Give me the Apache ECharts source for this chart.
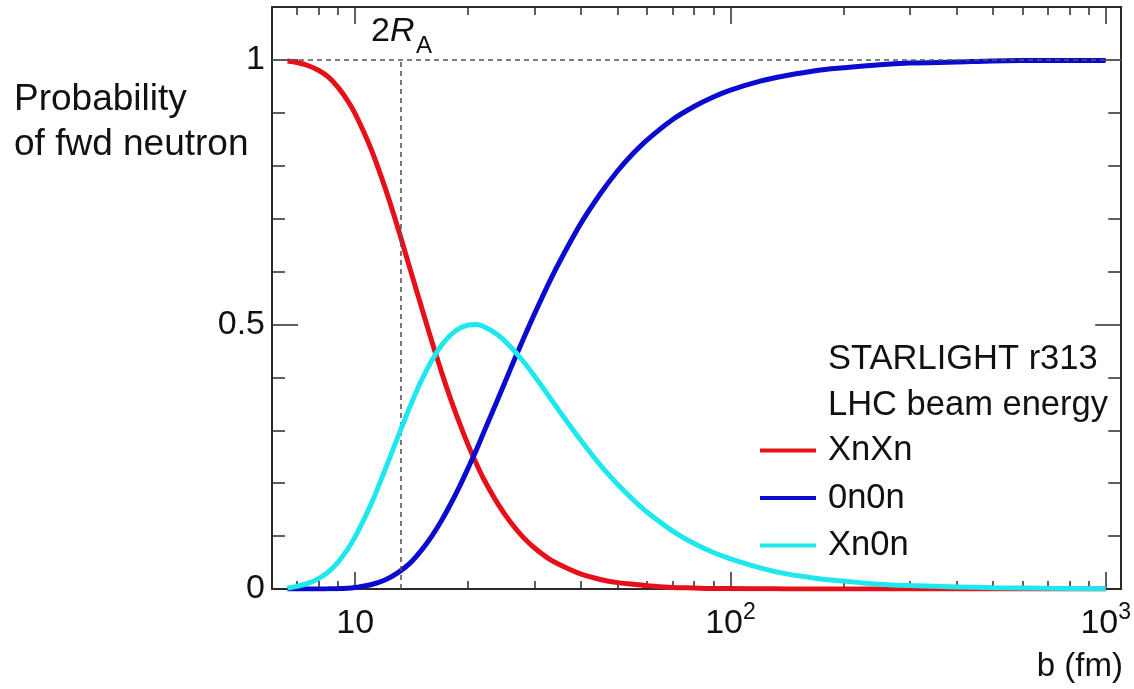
<!DOCTYPE html>
<html><head><meta charset="utf-8">
<script src="https://cdn.jsdelivr.net/npm/echarts@6/dist/echarts.min.js"></script>
<style>html,body{margin:0;padding:0;background:#fff}#c{width:1134px;height:689px}</style>
</head><body><div id="c"></div>
<script>
// impact parameter b (fm)
const bValues = [6.6,7,7.5,8,8.5,9,9.5,10,11,12,13,14,15,16,17,18,19,20,21,22,24,26,28,30,33,36,40,45,50,55,60,70,80,90,100,120,140,170,200,250,300,400,500,700,1000];
const probXnXn = [0.998,0.995,0.989,0.980,0.967,0.948,0.925,0.898,0.833,0.759,0.682,0.605,0.534,0.468,0.409,0.357,0.312,0.272,0.238,0.208,0.161,0.125,0.098,0.078,0.056,0.042,0.028,0.018,0.012,0.009,0.006,0.003,0.002,0.001,0.001,0.0004,0.0002,0.0001,0,0,0,0,0,0,0];
const prob0n0n = [0,0,0,0.0001,0.0003,0.0007,0.0014,0.003,0.008,0.017,0.031,0.049,0.073,0.100,0.130,0.162,0.195,0.229,0.262,0.296,0.359,0.418,0.471,0.519,0.582,0.634,0.692,0.747,0.790,0.823,0.849,0.887,0.912,0.930,0.943,0.960,0.970,0.980,0.985,0.991,0.994,0.996,0.998,0.999,0.999];
const probXn0n = [0.002,0.005,0.011,0.020,0.033,0.051,0.073,0.099,0.159,0.225,0.288,0.345,0.394,0.432,0.461,0.481,0.493,0.499,0.500,0.496,0.480,0.457,0.431,0.403,0.362,0.324,0.280,0.234,0.198,0.169,0.145,0.110,0.086,0.069,0.057,0.040,0.029,0.020,0.015,0.009,0.0065,0.004,0.0024,0.0012,0.0006];
const seriesNames = ['XnXn','0n0n','Xn0n'];
const twoRA = 13.24;
const xMajorTicks = [10,100,1000];
const xTickLabels = {10:'{b|10}',100:'{b|10}{s|2}',1000:'{b|10}{s|3}'};
const xMinorTicks = [7,8,9,20,30,40,50,60,70,80,90,200,300,400,500,600,700,800,900];
const yMajorTicks = [0,0.5,1];
const yTickLabels = {0:'0',0.5:'0.5',1:'1'};
const yMinorTicks = [0.1,0.2,0.3,0.4,0.6,0.7,0.8,0.9];

const FONT = "'Liberation Sans', Arial, Helvetica, sans-serif";
const INK = '#111';
const AX = '#2a2a2a';
const colors = ['#e5101a','#0a0ad0','#1ee8ee'];

function zip(xs, ys){ return xs.map((x,i)=>[x, ys[i]]); }

function xAx(pos, ticks, len, line, labels){
  return {
    type:'log', logBase:10, min:6, max:1100, position:pos, gridIndex:0,
    axisLine:{show:line, onZero:false, lineStyle:{color:AX, width:2}},
    axisTick:{show:true, inside:true, length:len, customValues:ticks, lineStyle:{color:AX, width:1.5}},
    axisLabel: labels ? {show:true, customValues:xMajorTicks, margin:12, color:INK,
      formatter:(v)=>xTickLabels[Math.round(v)] || String(v),
      rich:{ b:{fontSize:34, fontFamily:FONT, color:INK, lineHeight:40, verticalAlign:'bottom'},
             s:{fontSize:23, fontFamily:FONT, color:INK, lineHeight:22, verticalAlign:'top'} } } : {show:false},
    splitLine:{show:false}, minorTick:{show:false}, minorSplitLine:{show:false}
  };
}
function yAx(pos, ticks, len, line, labels){
  return {
    type:'value', min:0, max:1.1, position:pos, gridIndex:0,
    axisLine:{show:line, onZero:false, lineStyle:{color:AX, width:2}},
    axisTick:{show:true, inside:true, length:len, customValues:ticks, lineStyle:{color:AX, width:1.5}},
    axisLabel: labels ? {show:true, customValues:yMajorTicks, margin:7, color:INK, fontSize:34, fontFamily:FONT,
      formatter:(v)=>yTickLabels[v] !== undefined ? yTickLabels[v] : String(v)} : {show:false},
    splitLine:{show:false}
  };
}

const chart = echarts.init(document.getElementById('c'), null, {renderer:'canvas'});
const option = {
  animation:false,
  backgroundColor:'#fff',
  grid:{left:272, top:7, right:8, bottom:100, containLabel:false},
  xAxis:[
    xAx('bottom', xMajorTicks, 17, true, true),
    xAx('bottom', xMinorTicks, 8, false, false),
    xAx('top', xMajorTicks, 17, true, false),
    xAx('top', xMinorTicks, 8, false, false)
  ],
  yAxis:[
    yAx('left', yMajorTicks, 26, true, true),
    yAx('left', yMinorTicks, 13, false, false),
    yAx('right', yMajorTicks, 26, true, false),
    yAx('right', yMinorTicks, 13, false, false)
  ],
  legend:{
    orient:'vertical', left:755, top:428, itemWidth:56, itemHeight:4, itemGap:12.5,
    icon:'rect', data:seriesNames,
    textStyle:{fontSize:34.5, fontFamily:FONT, color:INK, lineHeight:32, padding:[0,0,0,7]}
  },
  series:[
    {name:seriesNames[0], type:'line', data:zip(bValues, probXnXn), showSymbol:false, smooth:0.3,
     lineStyle:{color:colors[0], width:5}, itemStyle:{color:colors[0]}, z:3,
     markLine:{silent:true, symbol:'none', animation:false,
       lineStyle:{type:[5,4], color:'#555', width:1.6}, label:{show:false},
       data:[ [{coord:[6,1]},{coord:[1100,1]}], [{coord:[twoRA,0]},{coord:[twoRA,1]}] ] }},
    {name:seriesNames[1], type:'line', data:zip(bValues, prob0n0n), showSymbol:false, smooth:0.3,
     lineStyle:{color:colors[1], width:5}, itemStyle:{color:colors[1]}, z:4},
    {name:seriesNames[2], type:'line', data:zip(bValues, probXn0n), showSymbol:false, smooth:0.3,
     lineStyle:{color:colors[2], width:5}, itemStyle:{color:colors[2]}, z:5}
  ],
  graphic:[
    {type:'text', left:14, top:77, style:{text:'Probability\nof fwd neutron', font:'37px '+FONT, fill:INK, lineHeight:45}},
    {type:'text', x:1123, y:667, style:{text:'b (fm)', font:'33px '+FONT, fill:INK, textAlign:'right', textVerticalAlign:'middle'}},
    {type:'text', x:371, y:32, style:{text:'{n|2}{i|R}', textVerticalAlign:'middle', fill:INK,
      rich:{n:{font:'34px '+FONT, fill:INK}, i:{font:'italic 34px '+FONT, fill:INK}}}},
    {type:'text', x:416, y:46, style:{text:'A', font:'24px '+FONT, fill:INK, textVerticalAlign:'middle'}},
    {type:'text', x:828, y:359, style:{text:'STARLIGHT r313', font:'34.5px '+FONT, fill:INK, textVerticalAlign:'middle'}},
    {type:'text', x:828, y:405, style:{text:'LHC beam energy', font:'34.5px '+FONT, fill:INK, textVerticalAlign:'middle'}}
  ]
};
chart.setOption(option);
</script></body></html>
